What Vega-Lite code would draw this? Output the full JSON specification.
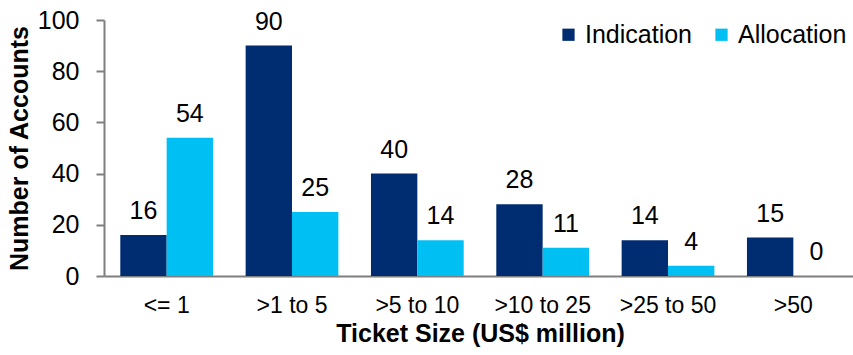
{
  "$schema": "https://vega.github.io/schema/vega-lite/v6.json",
  "autosize": "none",
  "width": 752,
  "height": 256,
  "padding": {"left": 104, "top": 20, "right": 0, "bottom": 79},
  "background": "white",
  "config": {
    "view": {"stroke": null},
    "font": "Liberation Sans",
    "axis": {"grid": false, "domainColor": "#7f7f7f", "domainWidth": 2, "tickColor": "#7f7f7f", "tickWidth": 2, "labelColor": "#000", "titleColor": "#000", "labelFont": "Liberation Sans", "titleFont": "Liberation Sans", "labelOverlap": false}
  },
  "data": {
    "values": [
      {"size": "<= 1", "series": "Indication", "value": 16},
      {"size": "<= 1", "series": "Allocation", "value": 54},
      {"size": ">1 to 5", "series": "Indication", "value": 90},
      {"size": ">1 to 5", "series": "Allocation", "value": 25},
      {"size": ">5 to 10", "series": "Indication", "value": 40},
      {"size": ">5 to 10", "series": "Allocation", "value": 14},
      {"size": ">10 to 25", "series": "Indication", "value": 28},
      {"size": ">10 to 25", "series": "Allocation", "value": 11},
      {"size": ">25 to 50", "series": "Indication", "value": 14},
      {"size": ">25 to 50", "series": "Allocation", "value": 4},
      {"size": ">50", "series": "Indication", "value": 15},
      {"size": ">50", "series": "Allocation", "value": 0}
    ]
  },
  "encoding": {
    "x": {
      "field": "size", "type": "nominal", "sort": null,
      "scale": {"paddingInner": 0.26, "paddingOuter": 0.13},
      "axis": {"title": "Ticket Size (US$ million)", "titleFontSize": 25, "titleFontWeight": "bold", "titlePadding": 4, "labelFontSize": 23, "labelAngle": 0, "labelPadding": 18, "ticks": false}
    },
    "xOffset": {"field": "series", "type": "nominal", "sort": ["Indication", "Allocation"], "scale": {"paddingInner": 0}},
    "y": {
      "field": "value", "type": "quantitative",
      "scale": {"domain": [0, 100]},
      "axis": {"title": "Number of Accounts", "titleFontSize": 25, "titleFontWeight": "bold", "titlePadding": 5, "labelFontSize": 25, "values": [0, 20, 40, 60, 80, 100], "tickSize": 8, "labelPadding": 17}
    }
  },
  "layer": [
    {
      "mark": {"type": "bar"},
      "encoding": {
        "color": {
          "field": "series", "type": "nominal", "sort": ["Indication", "Allocation"],
          "scale": {"domain": ["Indication", "Allocation"], "range": ["#002D72", "#00BFF3"]},
          "legend": {"title": null, "orient": "none", "legendX": 452, "legendY": 2, "direction": "horizontal", "symbolType": "square", "symbolSize": 150, "symbolStrokeWidth": 0, "labelFontSize": 25, "labelColor": "#000", "columnPadding": 16, "labelOffset": 4}
        }
      }
    },
    {
      "mark": {"type": "text", "baseline": "bottom", "dy": -11, "fontSize": 25, "color": "#000"},
      "encoding": {"text": {"field": "value", "type": "quantitative"}}
    }
  ]
}
